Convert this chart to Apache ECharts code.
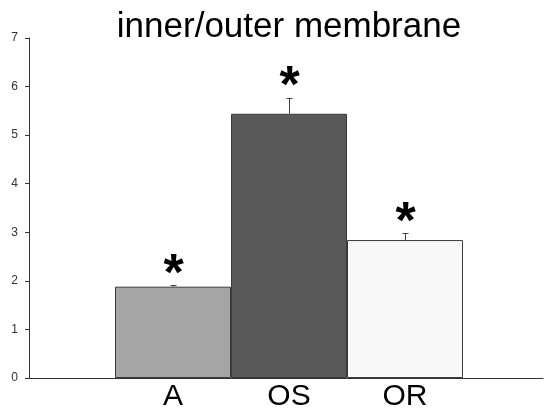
<!DOCTYPE html>
<html>
<head>
<meta charset="utf-8">
<script src="https://cdn.jsdelivr.net/npm/echarts@6/dist/echarts.min.js"></script>
<style>html,body{margin:0;padding:0;background:#fff}#c{width:544px;height:412px}</style>
</head>
<body>
<div id="c"></div>
<script>
var categories = ['A', 'OS', 'OR'];
var values = [1.88, 5.44, 2.84];
var errors = [0.03, 0.33, 0.14];
var marks = ['*', '*', '*'];
var barColors = ['#a5a5a5', '#595959', '#f8f8f8'];
var yTicks = [0, 1, 2, 3, 4, 5, 6, 7];

var FONT = '"Liberation Sans", Arial, sans-serif';
var chart = echarts.init(document.getElementById('c'), null, {renderer: 'canvas'});

var errData = values.map(function (v, i) { return [i, v, v + errors[i], marks[i]]; });

chart.setOption({
  animation: false,
  backgroundColor: '#ffffff',
  title: {
    text: 'inner/outer membrane',
    left: 284, top: 5, textAlign: 'center',
    textStyle: {fontFamily: FONT, fontSize: 35, fontWeight: 'normal', color: '#000'}
  },
  grid: [
    {left: 115, right: 81, top: 38, bottom: 34},
    {left: 29, right: 1, top: 38, bottom: 34}
  ],
  xAxis: [
    {
      type: 'category', gridIndex: 0, data: categories,
      axisLine: {show: false}, axisTick: {show: false},
      axisLabel: {color: '#000', fontFamily: FONT, fontSize: 30, margin: 4}
    },
    {
      type: 'value', gridIndex: 1, min: 0, max: 1,
      axisLine: {show: true, lineStyle: {color: '#333', width: 1}},
      axisTick: {show: false}, axisLabel: {show: false}, splitLine: {show: false}
    }
  ],
  yAxis: [
    {
      type: 'value', gridIndex: 0, min: yTicks[0], max: yTicks[yTicks.length - 1], interval: 1,
      offset: 86,
      axisLine: {show: true, lineStyle: {color: '#333', width: 1}},
      axisTick: {show: true, length: 4, lineStyle: {color: '#333'}},
      axisLabel: {color: '#333', fontFamily: FONT, fontSize: 12, margin: 11},
      splitLine: {show: false}
    },
    {
      type: 'value', gridIndex: 1, min: 0, max: 1, show: false
    }
  ],
  series: [
    {
      type: 'bar', xAxisIndex: 0, yAxisIndex: 0,
      barCategoryGap: '0%',
      data: values.map(function (v, i) {
        return {value: v, itemStyle: {color: barColors[i]}};
      }),
      itemStyle: {borderColor: '#3a3a3a', borderWidth: 1},
      z: 2
    },
    {
      type: 'custom', xAxisIndex: 0, yAxisIndex: 0,
      data: errData,
      renderItem: function (params, api) {
        var x = api.value(0);
        var p0 = api.coord([x, api.value(1)]);
        var p1 = api.coord([x, api.value(2)]);
        var cx = Math.round(p0[0]) + 0.5;
        return {
          type: 'group',
          children: [
            {type: 'line', shape: {x1: cx, y1: p0[1], x2: cx, y2: p1[1]}, style: {stroke: '#404040', lineWidth: 1}},
            {type: 'line', shape: {x1: cx - 3, y1: Math.round(p1[1]) + 0.5, x2: cx + 3, y2: Math.round(p1[1]) + 0.5}, style: {stroke: '#404040', lineWidth: 1}},
            {type: 'text', x: cx, y: p1[1] + 16, style: {text: api.value(3), fill: '#000', font: 'bold 52px ' + FONT, align: 'center', verticalAlign: 'bottom'}}
          ]
        };
      },
      z: 3
    }
  ]
});
</script>
</body>
</html>
